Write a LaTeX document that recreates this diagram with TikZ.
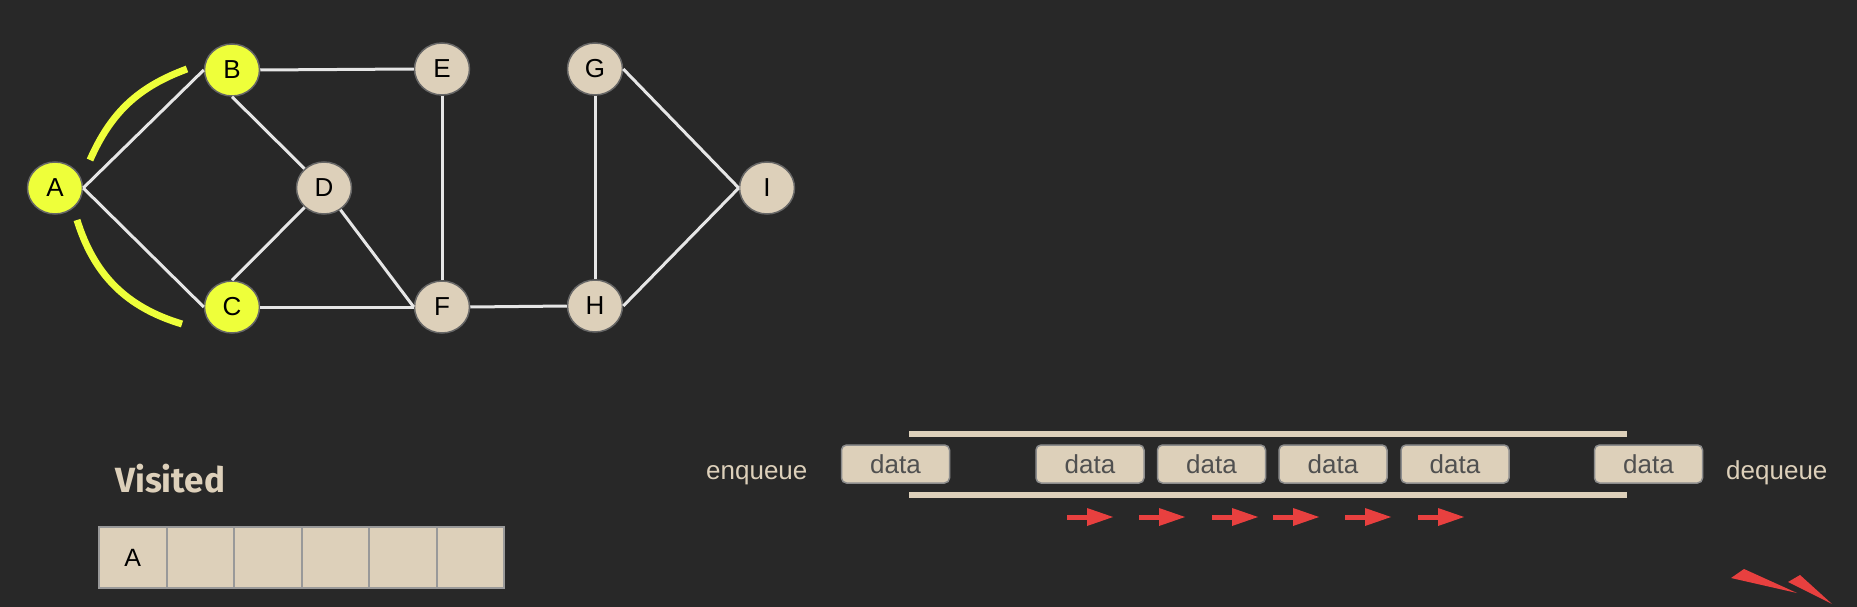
\documentclass[tikz,border=0pt]{standalone}
\usepackage{fontspec}
\setmainfont{Liberation Sans}
\newfontfamily\visfont{Fira Sans}
\usetikzlibrary{shapes.geometric}
\definecolor{bg}{HTML}{282828}
\definecolor{beige}{HTML}{DDD0BA}
\definecolor{hiyel}{HTML}{EEFF3A}
\definecolor{edgec}{HTML}{E6E6E6}
\definecolor{redc}{HTML}{E8403F}
\definecolor{datatxt}{HTML}{505050}
\tikzset{
  gnode/.style={ellipse, draw=black!60, line width=1.5pt, fill=beige, minimum width=55pt, minimum height=52pt, inner sep=0pt, font=\fontsize{26}{30}\selectfont, text=black},
  vnode/.style={gnode, fill=hiyel},
  gedge/.style={draw=edgec, line width=3pt},
  hiarc/.style={draw=hiyel, line width=7pt},
  cell/.style={rectangle, draw=black!40, line width=2pt, fill=beige, minimum width=67.5pt, minimum height=61pt, inner sep=0pt, font=\fontsize{25}{29}\selectfont, text=black},
  databox/.style={rectangle, rounded corners=5pt, draw=black!45, line width=1.5pt, fill=beige, minimum width=108pt, minimum height=38pt, inner sep=0pt, font=\fontsize{26}{30}\selectfont, text=datatxt},
  qlabel/.style={font=\fontsize{26}{30}\selectfont, text=beige, inner sep=0pt},
}
\begin{document}
\begin{tikzpicture}[x=1pt,y=-1pt]
\fill[bg] (0,0) rectangle (1857,607);
\useasboundingbox (0,0) rectangle (1857,607);
% highlight arcs
\coordinate (u1) at (90,160);
\coordinate (u2) at (187,69);
\coordinate (l1) at (77,220);
\coordinate (l2) at (182,324);
\draw[hiarc] (u1) to[bend left=23] (u2);
\draw[hiarc] (l1) to[bend right=28] (l2);
% graph nodes
\node[vnode] (A) at (55,188) {A};
\node[vnode] (B) at (232,70) {B};
\node[vnode] (C) at (232,307) {C};
\node[gnode] (D) at (324,188) {D};
\node[gnode] (E) at (442,69) {E};
\node[gnode] (F) at (442,307) {F};
\node[gnode] (G) at (595,69) {G};
\node[gnode] (H) at (595,306) {H};
\node[gnode] (I) at (767,188) {I};
% edges
\draw[gedge] (A.east) -- (B.west);
\draw[gedge] (A.east) -- (C.west);
\draw[gedge] (B.east) -- (E.west);
\draw[gedge] (B.south) -- (D);
\draw[gedge] (C.north) -- (D);
\draw[gedge] (D) -- (F.west);
\draw[gedge] (C.east) -- (F.west);
\draw[gedge] (E.south) -- (F.north);
\draw[gedge] (F.east) -- (H.west);
\draw[gedge] (G.south) -- (H.north);
\draw[gedge] (G.east) -- (I.west);
\draw[gedge] (H.east) -- (I.west);
% visited
\node[anchor=base west, inner sep=0pt, text=beige, font=\visfont\bfseries\fontsize{35}{40}\selectfont] (vis) at (115,492) {Visited};
\foreach \i in {1,...,6} {
  \node[cell] (v\i) at ({99+67.5*(\i-0.5)},557.5) {};
}
\node[font=\fontsize{25}{29}\selectfont, inner sep=0pt] (va) at (v1) {A};
% queue
\fill[beige] (909,431) rectangle (1627,437);
\fill[beige] (909,492) rectangle (1627,498);
\node[qlabel, anchor=base west] (enq) at (706,479) {enqueue};
\node[qlabel, anchor=base west] (deq) at (1726,479) {dequeue};
\node[databox] (d1) at (895.5,464) {data};
\node[databox] (d2) at (1090,464) {data};
\node[databox] (d3) at (1211.5,464) {data};
\node[databox] (d4) at (1333,464) {data};
\node[databox] (d5) at (1455,464) {data};
\node[databox] (d6) at (1648.5,464) {data};
% red arrows
\foreach \x in {1067,1139,1212,1273,1345,1418} {
  \fill[redc] (\x,514.5) rectangle (\x+22,519.5);
  \fill[redc] (\x+20,508) -- (\x+46,517) -- (\x+20,526) -- cycle;
}
% red wedges
\fill[redc] (1731,578) -- (1744,569) -- (1797,593) -- cycle;
\fill[redc] (1788,582) -- (1800,575) -- (1832,604) -- cycle;
\end{tikzpicture}
\end{document}
